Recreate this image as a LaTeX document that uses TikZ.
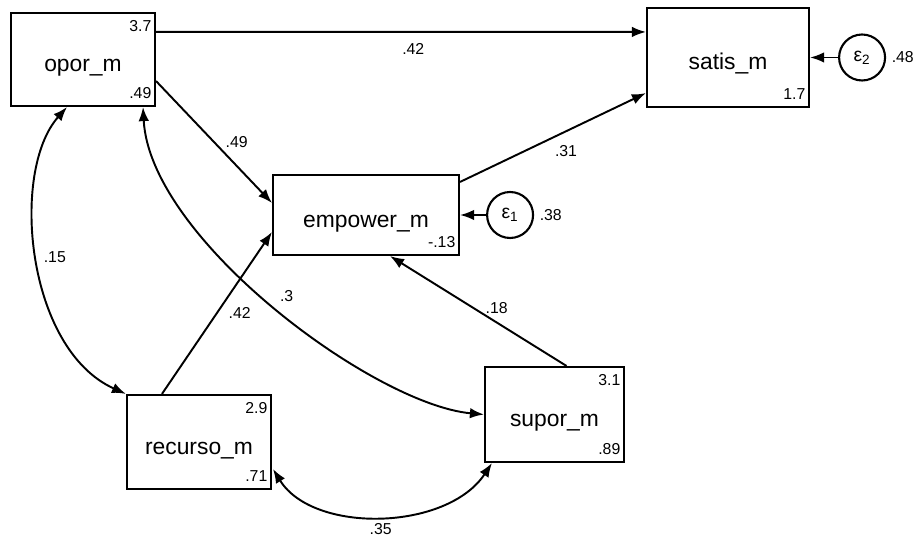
\documentclass[tikz,border=0pt]{standalone}
\usepackage{fontspec}
\setmainfont{Liberation Sans}
\usetikzlibrary{arrows.meta, positioning, calc}
\tikzset{
  varbox/.style={draw, line width=1.2pt, rectangle, inner sep=0pt,
    text height=14pt, text depth=0pt, font=\fontsize{13}{15}\selectfont},
  errnode/.style={draw, circle, line width=1.2pt, minimum size=0.92cm,
    inner sep=0pt, font=\fontsize{11}{12}\selectfont},
  cornertxt/.style={inner xsep=2.5pt, inner ysep=4.5pt, font=\fontsize{9}{10}\selectfont},
  pathlbl/.style={inner sep=1pt, font=\fontsize{9}{10}\selectfont},
  patharrow/.style={-{Latex[length=8pt,width=6pt]}, line width=1.1pt},
  covarrow/.style={{Latex[length=8pt,width=6pt]}-{Latex[length=8pt,width=6pt]},
    line width=1.1pt}
}

\begin{document}
\begin{tikzpicture}[x=0.02cm, y=-0.02cm]

  \useasboundingbox (0,0) rectangle (913,536);

  % observed variables
  \node[varbox, minimum width=2.88cm, minimum height=1.86cm] (opor)    at (83,59.5)  {opor\_m};
  \node[varbox, minimum width=3.24cm, minimum height=1.98cm] (satis)   at (728,57.5) {satis\_m};
  \node[varbox, minimum width=3.72cm, minimum height=1.60cm] (empower) at (366,215)  {empower\_m};
  \node[varbox, minimum width=2.88cm, minimum height=1.88cm] (recurso) at (199,442)  {recurso\_m};
  \node[varbox, minimum width=2.78cm, minimum height=1.90cm] (supor)   at (554.5,414.5) {supor\_m};

  % intercepts and variances
  \node[cornertxt, anchor=north east] at (opor.north east)    {3.7};
  \node[cornertxt, anchor=south east] at (opor.south east)    {.49};
  \node[cornertxt, anchor=south east] at (satis.south east)   {1.7};
  \node[cornertxt, anchor=south east] at (empower.south east) {-.13};
  \node[cornertxt, anchor=north east] at (recurso.north east) {2.9};
  \node[cornertxt, anchor=south east] at (recurso.south east) {.71};
  \node[cornertxt, anchor=north east] at (supor.north east)   {3.1};
  \node[cornertxt, anchor=south east] at (supor.south east)   {.89};

  % error terms
  \node[errnode, right=0.52cm of empower] (e1) {ε\textsubscript{1}};
  \node[errnode, right=0.56cm of satis]   (e2) {ε\textsubscript{2}};
  \node[pathlbl, right=2pt of e1] (v1) {.38};
  \node[pathlbl, right=2pt of e2] (v2) {.48};

  % paths
  \draw[patharrow] ($(opor.north east)+(0,20)$) -- ($(satis.north west)+(0,25)$)
      node[pathlbl, pos=0.525, below=0.17cm] {.42};
  \draw[patharrow] ($(opor.south east)+(0,-26)$) -- ($(empower.west)+(0,-12)$)
      node[pathlbl, midway, right=0.18cm] {.49};
  \draw[patharrow] ($(recurso.north west)+(36,0)$) -- ($(empower.west)+(0,17)$)
      node[pathlbl, midway, right=0.18cm] {.42};
  \draw[patharrow] ($(empower.north east)+(0,8)$) -- ($(satis.south west)+(0,-15)$)
      node[pathlbl, pos=0.57, below=0.22cm] {.31};
  \draw[patharrow] ($(supor.north)+(12,0)$) -- ($(empower.south)+(24,0)$)
      node[pathlbl, pos=0.53, right=0.2cm] {.18};
  \draw[patharrow] (e1) -- (empower.east);
  \draw[patharrow] (e2) -- (satis.east);

  % covariances
  \draw[covarrow] ($(opor.south)+(-16,0)$) .. controls +(-57,64) and +(-100,-45) ..
      (recurso.north west) node[pathlbl, pos=0.5, right=2pt] {.15};
  \draw[covarrow] ($(opor.south)+(60,0)$) .. controls +(7,132) and +(-110,-10) ..
      (supor.west) node[pathlbl, pos=0.47, right=0.3cm] {.3};
  \draw[covarrow] ($(recurso.south east)+(1,-21)$) .. controls +(40,65) and +(-45,68) ..
      ($(supor.south west)+(8,0)$) node[pathlbl, pos=0.5, below=3pt] {.35};

\end{tikzpicture}
\end{document}
